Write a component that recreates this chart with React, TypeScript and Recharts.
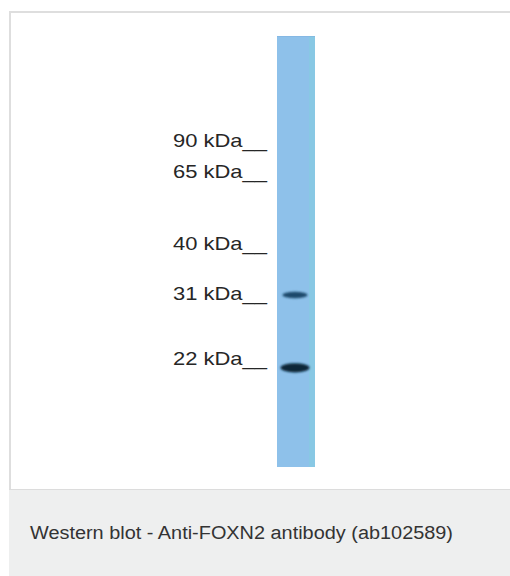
import React from "react";
import { ComposedChart, Bar, ReferenceDot, XAxis, YAxis } from "recharts";

// Lane(s) on the blot
const lanes = ["ab102589"];
// Lane length in migration units (0 = top of gel, 100 = bottom)
const laneLength = [100];

// Molecular weight markers: label and migration position (% of lane length)
const markerLabels = ["90 kDa", "65 kDa", "40 kDa", "31 kDa", "22 kDa"];
const markerPositions = [24.1, 31.4, 48.0, 59.6, 74.7];

// Detected bands: migration position (% of lane) and relative intensity
const bandPositions = [60.1, 77.0];
const bandIntensity = [0.55, 1.0];

const caption = "Western blot - Anti-FOXN2 antibody (ab102589)";

const laneData = lanes.map((l, i) => ({ lane: l, length: laneLength[i] }));

const LaneShape = (props: any) => {
  const { x, y, width, height } = props;
  const top = Math.min(y, y + height);
  const h = Math.abs(height);
  return (
    <g>
      <rect x={x} y={top} width={width} height={h} fill="#8ec1ea" />
      <rect x={x + width - 6} y={top} width={6} height={h} fill="#88c8e4" />
      <rect x={x} y={top} width={width} height={1} fill="#7fb3e0" opacity={0.6} />
    </g>
  );
};

const makeBandShape = (k: number, id: string) => (props: any) => {
  const { cx, cy } = props;
  const rx = 10 + 4.5 * k;
  const ry = 1.6 + 3.0 * k;
  return (
    <g>
      <defs>
        <filter id={id} x="-50%" y="-200%" width="200%" height="500%">
          <feGaussianBlur stdDeviation={0.9} />
        </filter>
      </defs>
      <ellipse
        cx={cx - 1}
        cy={cy}
        rx={rx}
        ry={ry}
        fill={k > 0.8 ? "#082639" : "#1f4a6c"}
        filter={`url(#${id})`}
      />
    </g>
  );
};

const MarkerTick = (props: any) => {
  const { x, y, payload } = props;
  const idx = markerPositions.indexOf(payload.value);
  const label = idx >= 0 ? markerLabels[idx] : "";
  return (
    <text
      x={x}
      y={y}
      dy="0.36em"
      textAnchor="end"
      fontFamily="'Liberation Sans', Arial, sans-serif"
      fontSize={19}
      fill="#262626"
      textLength={94}
      lengthAdjust="spacingAndGlyphs"
    >
      {label + "__"}
    </text>
  );
};

export default function App() {
  return (
    <div
      style={{
        position: "absolute",
        left: 0,
        top: 0,
        width: 510,
        height: 576,
        overflow: "hidden",
        background: "#ffffff",
      }}
    >
      <div
        style={{
          position: "absolute",
          left: 9,
          top: 11,
          width: 501,
          height: 478,
          borderLeft: "2px solid #dedede",
          borderTop: "2px solid #dedede",
          boxSizing: "border-box",
          background: "#ffffff",
        }}
      />
      <div
        style={{
          position: "absolute",
          left: 9,
          top: 489,
          width: 501,
          height: 87,
          borderTop: "1px solid #dcdcdc",
          boxSizing: "border-box",
          background: "#eeefef",
        }}
      >
        <svg width={501} height={86} style={{ display: "block" }}>
          <text
            x={21}
            y={43}
            dy="0.36em"
            fontFamily="'Liberation Sans', Arial, sans-serif"
            fontSize={18}
            fill="#333333"
            textLength={423}
            lengthAdjust="spacingAndGlyphs"
          >
            {caption}
          </text>
        </svg>
      </div>
      <div style={{ position: "absolute", left: 0, top: 0 }}>
        <ComposedChart
          width={510}
          height={576}
          data={laneData}
          margin={{ top: 36, bottom: 109, left: 0, right: 188 }}
        >
          <XAxis dataKey="lane" type="category" hide />
          <YAxis
            type="number"
            domain={[0, 100]}
            reversed
            ticks={markerPositions}
            width={270}
            axisLine={false}
            tickLine={false}
            tickSize={0}
            tickMargin={3}
            interval={0}
            tick={<MarkerTick />}
          />
          <Bar
            dataKey="length"
            barSize={38}
            shape={<LaneShape />}
            isAnimationActive={false}
          />
          {bandPositions.map((p, i) => (
            <ReferenceDot
              key={i}
              x={lanes[0]}
              y={p}
              r={4}
              shape={makeBandShape(bandIntensity[i], `band${i}`)}
            />
          ))}
        </ComposedChart>
      </div>
    </div>
  );
}
